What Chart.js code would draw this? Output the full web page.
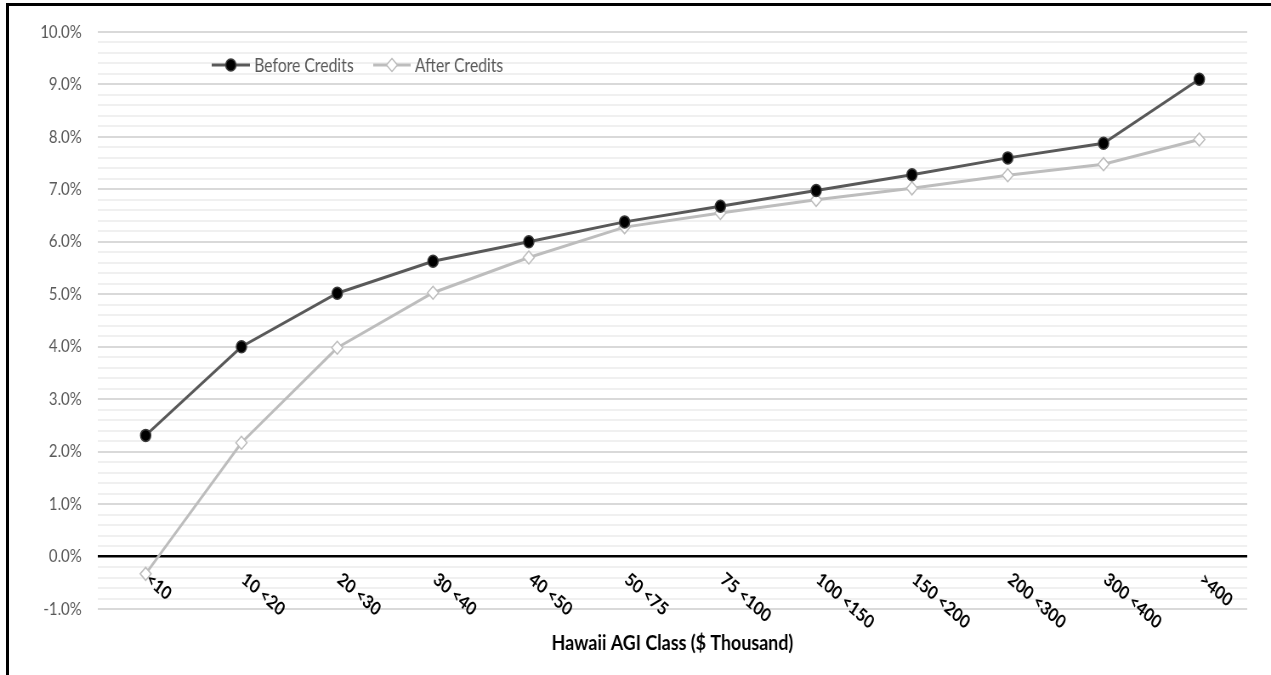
<!DOCTYPE html>
<html><head><meta charset="utf-8">
<script src="https://cdn.jsdelivr.net/npm/chart.js@4.4.1/dist/chart.umd.min.js"></script>
<style>
html,body{margin:0;padding:0;background:#fff;overflow:hidden}
#wrap{position:relative;width:1271px;height:675px;background:#fff}
#c{position:absolute;left:0;top:0}
#frame{position:absolute;left:6px;top:3px;right:0;bottom:0;border-top:3px solid #000;border-left:3px solid #000;pointer-events:none}
</style></head><body>
<div id="wrap"><canvas id="c" width="1495" height="675" style="width:1271px;height:675px"></canvas><div id="frame"></div></div>
<script>
// ---- data ----
const categories = ['<10', '10 <20', '20 <30', '30 <40', '40 <50', '50 <75', '75 <100', '100 <150', '150 <200', '200 <300', '300 <400', '>400'];
const beforeCredits = [2.31, 4.00, 5.02, 5.63, 6.00, 6.38, 6.68, 6.98, 7.28, 7.60, 7.88, 9.10];
const afterCredits = [-0.33, 2.17, 3.98, 5.03, 5.70, 6.28, 6.55, 6.80, 7.02, 7.27, 7.48, 7.95];
const seriesNames = ['Before Credits', 'After Credits'];
const xAxisTitle = 'Hawaii AGI Class ($ Thousand)';
const yMin = -1, yMax = 10, yStep = 0.2;

const FONT = 'Lato, "Open Sans", sans-serif';
const isMajor = v => Math.abs(v - Math.round(v)) < 1e-6;

function drawMarker(ctx, style, x, y) {
  ctx.save();
  ctx.lineWidth = style.bw;
  ctx.strokeStyle = style.border;
  ctx.fillStyle = style.fill;
  ctx.beginPath();
  if (style.shape === 'circle') {
    ctx.arc(x, y, style.r, 0, Math.PI * 2);
  } else {
    ctx.moveTo(x, y - style.r); ctx.lineTo(x + style.r, y); ctx.lineTo(x, y + style.r); ctx.lineTo(x - style.r, y); ctx.closePath();
  }
  ctx.fill(); ctx.stroke();
  ctx.restore();
}

const legendPlugin = {
  id: 'customLegend',
  afterDatasetsDraw(chart) {
    const ctx = chart.ctx;
    const pos = [{x1: 249, x2: 294, tx: 299}, {x1: 439, x2: 483, tx: 488}];
    const y = 65;
    chart.data.datasets.forEach((ds, i) => {
      const p = pos[i];
      ctx.save();
      ctx.strokeStyle = ds.borderColor; ctx.lineWidth = ds.borderWidth;
      ctx.beginPath(); ctx.moveTo(p.x1, y); ctx.lineTo(p.x2, y); ctx.stroke();
      drawMarker(ctx, {shape: ds.pointStyle === 'circle' ? 'circle' : 'diamond', r: ds.pointRadius, bw: ds.pointBorderWidth, border: ds.pointBorderColor, fill: ds.pointBackgroundColor}, (p.x1 + p.x2) / 2, y);
      ctx.font = '18.5px ' + FONT; ctx.fillStyle = '#595959';
      ctx.textAlign = 'left'; ctx.textBaseline = 'middle';
      ctx.fillText(ds.label, p.tx, y + 1);
      ctx.restore();
    });
  }
};

const xLabelPlugin = {
  id: 'xLabels',
  afterDraw(chart) {
    const ctx = chart.ctx, xs = chart.scales.x, ys = chart.scales.y;
    const y0 = ys.getPixelForValue(0);
    ctx.save();
    ctx.font = 'bold 18.5px ' + FONT;
    ctx.fillStyle = '#000';
    ctx.textAlign = 'left'; ctx.textBaseline = 'top';
    chart.data.labels.forEach((lab, i) => {
      const x = xs.getPixelForValue(i);
      ctx.save();
      ctx.translate(x + 8, y0 + 13);
      ctx.rotate(37 * Math.PI / 180);
      ctx.fillText(lab, 0, 0);
      ctx.restore();
    });
    ctx.font = 'bold 21px ' + FONT;
    ctx.textAlign = 'center'; ctx.textBaseline = 'middle';
    ctx.fillText(xAxisTitle, (chart.chartArea.left + chart.chartArea.right) / 2, 643);
    ctx.restore();
  }
};

const chart = new Chart(document.getElementById('c'), {
  type: 'line',
  data: {
    labels: categories,
    datasets: [
      {label: seriesNames[0], data: beforeCredits, borderColor: '#595959', borderWidth: 3,
       pointStyle: 'circle', pointRadius: 6, pointBackgroundColor: '#000', pointBorderColor: '#3a3a3a', pointBorderWidth: 1.5, tension: 0},
      {label: seriesNames[1], data: afterCredits, borderColor: '#bdbdbd', borderWidth: 3,
       pointStyle: 'rectRot', pointRadius: 6.5, pointBackgroundColor: '#fff', pointBorderColor: '#bdbdbd', pointBorderWidth: 1.5, tension: 0}
    ]
  },
  options: {
    responsive: false, animation: false, devicePixelRatio: 1,
    layout: {padding: {left: 0, top: 32, right: 28, bottom: 66}},
    plugins: {legend: {display: false}, tooltip: {enabled: false}, title: {display: false}},
    scales: {
      x: {
        offset: true,
        grid: {display: false}, border: {display: false},
        ticks: {display: false},
        afterFit(s) { s.height = 0; }
      },
      y: {
        min: yMin, max: yMax,
        border: {display: false},
        afterFit(s) { s.width = 115; },
        ticks: {
          stepSize: yStep, autoSkip: false, padding: 19,
          color: '#595959', font: {family: FONT, size: 17.5},
          callback: v => isMajor(v) ? Number(v).toFixed(1) + '%' : ''
        },
        grid: {
          drawTicks: false,
          color: c => Math.abs(c.tick.value) < 1e-6 ? '#000' : (isMajor(c.tick.value) ? '#d9d9d9' : '#f0f0f0'),
          lineWidth: c => Math.abs(c.tick.value) < 1e-6 ? 2.5 : 2
        }
      }
    }
  },
  plugins: [legendPlugin, xLabelPlugin]
});
document.getElementById('c').style.width = '1271px';
document.getElementById('c').style.height = '675px';
</script>
</body></html>
